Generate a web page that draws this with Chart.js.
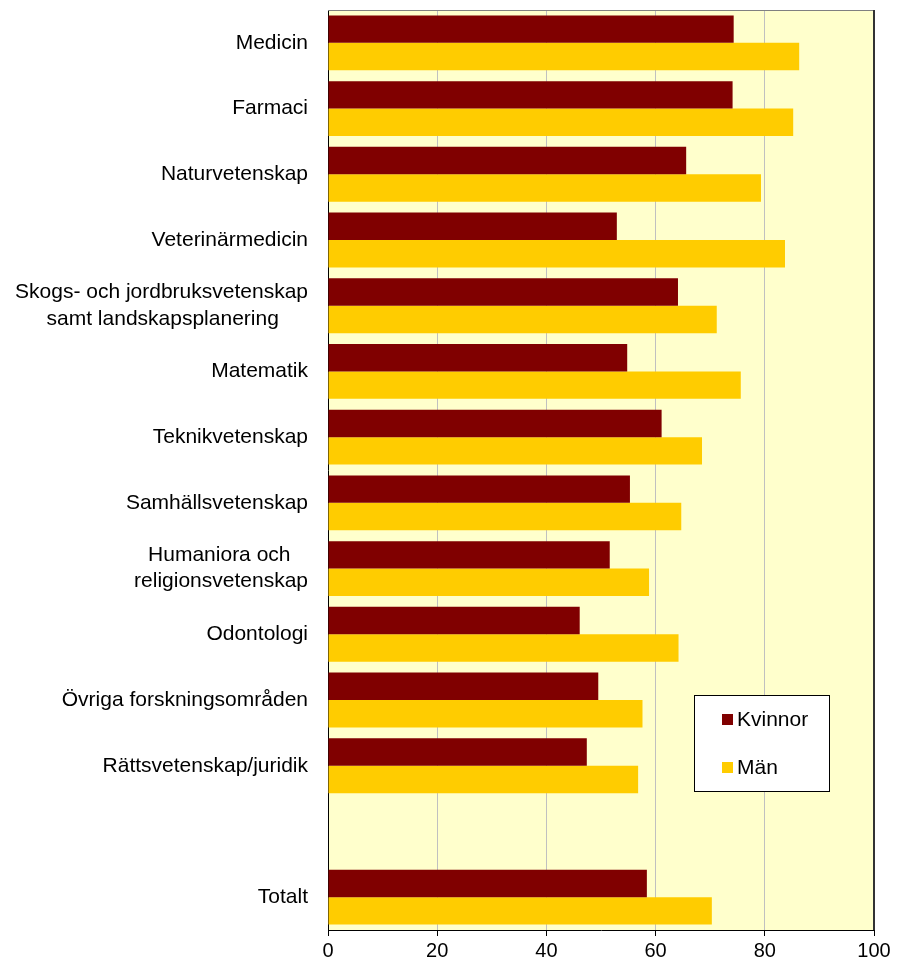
<!DOCTYPE html>
<html>
<head>
<meta charset="utf-8">
<script src="https://cdn.jsdelivr.net/npm/chart.js@4/dist/chart.umd.min.js"></script>
<style>
  html, body { margin: 0; padding: 0; background: #ffffff; }
  #wrap { width: 898px; height: 964px; }
</style>
</head>
<body>
<div id="wrap"><canvas id="c" width="898" height="964"></canvas></div>
<script>
const categories = [
  "Medicin",
  "Farmaci",
  "Naturvetenskap",
  "Veterinärmedicin",
  ["Skogs- och jordbruksvetenskap", "samt landskapsplanering     "],
  "Matematik",
  "Teknikvetenskap",
  "Samhällsvetenskap",
  ["Humaniora och   ", "religionsvetenskap"],
  "Odontologi",
  "Övriga forskningsområden",
  "Rättsvetenskap/juridik",
  "",
  "Totalt"
];
const kvinnor = [74.3, 74.1, 65.6, 52.9, 64.1, 54.8, 61.1, 55.3, 51.6, 46.1, 49.5, 47.4, null, 58.4];
const man     = [86.3, 85.2, 79.3, 83.7, 71.2, 75.6, 68.5, 64.7, 58.8, 64.2, 57.6, 56.8, null, 70.3];
const seriesNames = ["Kvinnor", "Män"];
const xTicks = [0, 20, 40, 60, 80, 100];

const FONT = "'Liberation Sans', Arial, sans-serif";

const bgPlugin = {
  id: 'bg',
  beforeDraw(chart) {
    const {ctx, chartArea: a} = chart;
    ctx.save();
    ctx.fillStyle = '#ffffff';
    ctx.fillRect(0, 0, chart.width, chart.height);
    ctx.fillStyle = '#FFFFCC';
    ctx.fillRect(a.left, a.top, a.right - a.left, a.bottom - a.top);
    ctx.restore();
  },
  afterDraw(chart) {
    const {ctx, chartArea: a} = chart;
    ctx.save();
    ctx.strokeStyle = '#808080';
    ctx.lineWidth = 1;
    ctx.beginPath();
    ctx.moveTo(a.left, a.top + 0.5);
    ctx.lineTo(a.right, a.top + 0.5);
    ctx.stroke();
    ctx.strokeStyle = '#333333';
    ctx.lineWidth = 2;
    ctx.beginPath();
    ctx.moveTo(a.right, a.top);
    ctx.lineTo(a.right, a.bottom);
    ctx.stroke();

    // legend box
    const bx = a.right - 180, by = a.top + 685, bw = 135, bh = 96;
    ctx.fillStyle = '#ffffff';
    ctx.fillRect(bx, by, bw, bh);
    ctx.strokeStyle = '#000000';
    ctx.lineWidth = 1;
    ctx.strokeRect(bx + 0.5, by + 0.5, bw, bh);
    ctx.font = '21px ' + FONT;
    ctx.textBaseline = 'middle';
    ctx.textAlign = 'left';
    chart.data.datasets.forEach((ds, i) => {
      const cy = by + 25 + i * 48;
      ctx.fillStyle = ds.backgroundColor;
      ctx.fillRect(bx + 28, cy - 6, 11, 11);
      ctx.fillStyle = '#000000';
      ctx.fillText(ds.label, bx + 43, cy);
    });
    ctx.restore();
  }
};

new Chart(document.getElementById('c'), {
  type: 'bar',
  data: {
    labels: categories,
    datasets: [
      { label: seriesNames[0], data: kvinnor, backgroundColor: '#800000', borderWidth: 0 },
      { label: seriesNames[1], data: man, backgroundColor: '#FFCC00', borderWidth: 0 }
    ]
  },
  options: {
    indexAxis: 'y',
    responsive: false,
    animation: false,
    devicePixelRatio: 1,
    categoryPercentage: 0.835,
    barPercentage: 1.0,
    layout: { padding: { top: 10, right: 24, left: 0, bottom: 0 } },
    plugins: {
      legend: { display: false },
      tooltip: { enabled: false }
    },
    scales: {
      x: {
        type: 'linear',
        min: 0,
        max: 100,
        afterBuildTicks(scale) { scale.ticks = xTicks.map(v => ({ value: v })); },
        afterFit(scale) { scale.height = 34; },
        grid: {
          color: ctx => (ctx.tick && (ctx.tick.value === 0 || ctx.tick.value === 100)) ? 'rgba(0,0,0,0)' : '#C0C0C0',
          lineWidth: 1,
          tickColor: '#000000',
          tickLength: 6,
          drawTicks: true
        },
        border: { color: '#000000', width: 1 },
        ticks: {
          color: '#000000',
          font: { family: FONT, size: 20 },
          padding: 3,
          maxRotation: 0
        }
      },
      y: {
        afterFit(scale) {
          scale.width = 328;
          scale.paddingTop = 0;
          scale.paddingBottom = 0;
        },
        grid: { display: false, drawTicks: false },
        border: { color: '#000000', width: 1 },
        ticks: {
          color: '#000000',
          font: { family: FONT, size: 21, lineHeight: 1.25 },
          padding: 20,
          autoSkip: false
        }
      }
    }
  },
  plugins: [bgPlugin]
});
</script>
</body>
</html>
